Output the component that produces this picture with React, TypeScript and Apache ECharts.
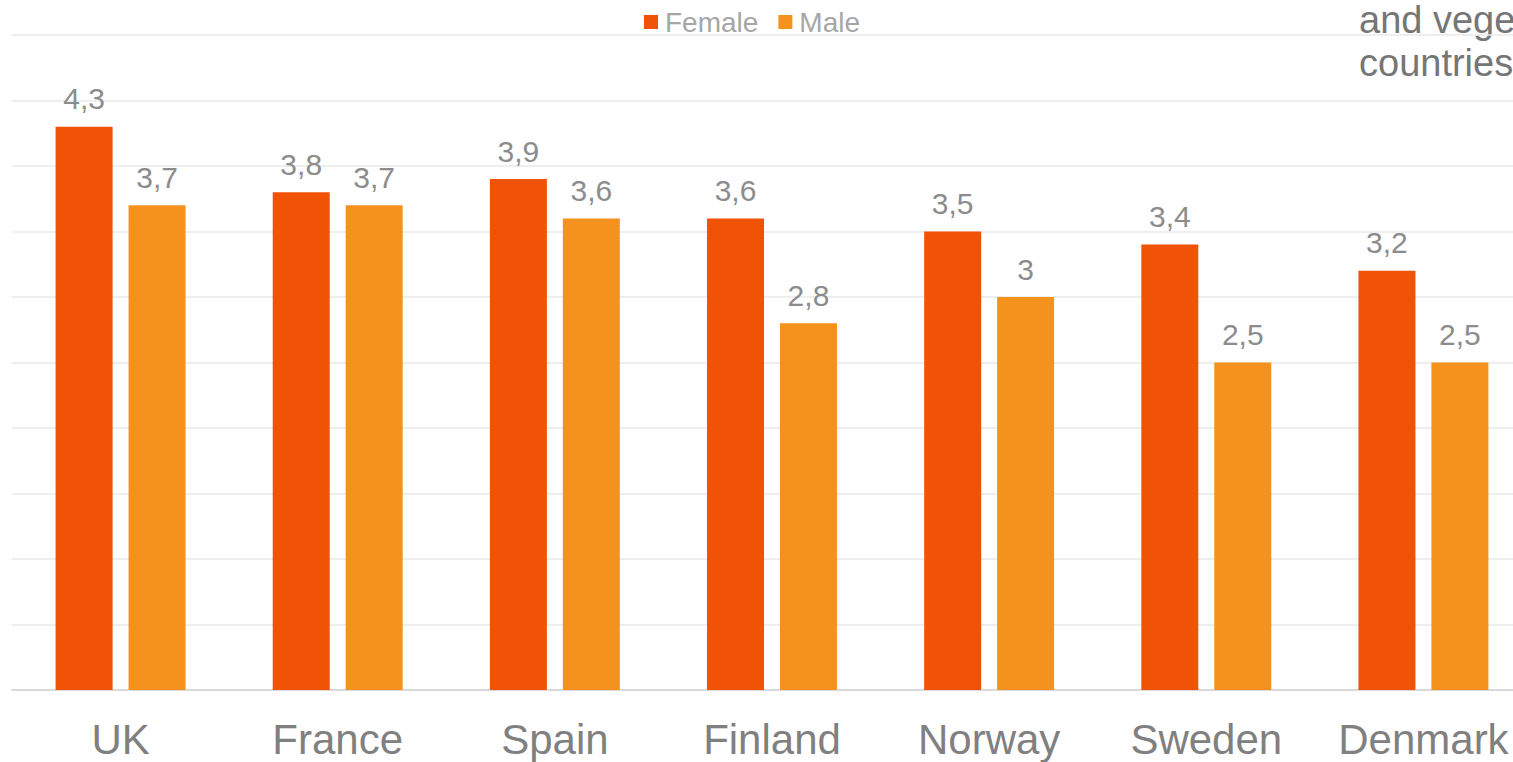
import React, { useEffect, useRef } from "react";
import * as echarts from "echarts";

const countries = ["UK", "France", "Spain", "Finland", "Norway", "Sweden", "Denmark"];
const female = [4.3, 3.8, 3.9, 3.6, 3.5, 3.4, 3.2];
const male = [3.7, 3.7, 3.6, 2.8, 3.0, 2.5, 2.5];
const titleLines = ["and vegetables in Nordic", "countries"];

const FONT = "'Liberation Sans', Arial, sans-serif";
const fmt = (v: number) => String(v).replace(".", ",");

export default function App() {
  const ref = useRef<HTMLDivElement>(null);

  useEffect(() => {
    if (!ref.current) return;
    const chart = echarts.init(ref.current, undefined, { renderer: "svg" });
    const label = {
      show: true,
      position: "top" as const,
      distance: 13,
      color: "#8c8c8c",
      fontSize: 30,
      fontFamily: FONT,
      formatter: (p: any) => fmt(p.value),
    };
    chart.setOption({
      animation: false,
      textStyle: { fontFamily: FONT },
      legend: {
        top: 3,
        left: 639,
        itemWidth: 14,
        itemHeight: 14,
        itemGap: 20,
        icon: "rect",
        textStyle: { color: "#a6a6a6", fontSize: 28, fontFamily: FONT, padding: [0, 0, 0, 2] },
        data: ["Female", "Male"],
      },
      graphic: [
        {
          type: "text",
          left: 1359,
          top: -2,
          silent: true,
          style: {
            text: titleLines.join("\n"),
            fill: "#767676",
            fontSize: 38,
            lineHeight: 43,
            fontFamily: FONT,
          },
        },
      ],
      grid: { left: 12, top: 35, right: -19, bottom: 72, outerBoundsMode: "none", containLabel: false },
      xAxis: {
        type: "category",
        data: countries,
        axisTick: { show: false },
        axisLine: { lineStyle: { color: "#d9d9d9", width: 2 } },
        axisLabel: { color: "#808080", fontSize: 42, fontFamily: FONT, margin: 28, interval: 0, hideOverlap: false },
      },
      yAxis: {
        type: "value",
        min: 0,
        max: 5,
        interval: 0.5,
        axisLabel: { show: false },
        axisLine: { show: false },
        axisTick: { show: false },
        splitLine: { lineStyle: { color: "#e8e8e8", width: 1.5 } },
      },
      series: [
        {
          name: "Female",
          type: "bar",
          data: female,
          barWidth: 57,
          barGap: "28%",
          itemStyle: { color: "#f05206" },
          label,
        },
        {
          name: "Male",
          type: "bar",
          data: male,
          barWidth: 57,
          itemStyle: { color: "#f5921e" },
          label,
        },
      ],
    });
    return () => chart.dispose();
  }, []);

  return <div ref={ref} style={{ width: 1513, height: 762, position: "absolute", left: 0, top: 0 }} />;
}
